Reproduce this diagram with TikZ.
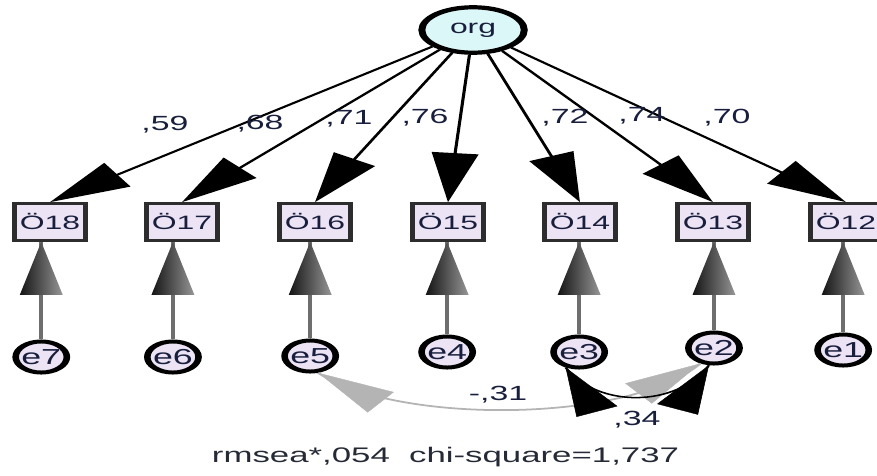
\documentclass[tikz,border=0pt]{standalone}
\usepackage{fontspec}
\setmainfont{Liberation Sans}
\usetikzlibrary{arrows.meta,shapes.geometric,calc}

\definecolor{orgfill}{RGB}{220,247,247}
\definecolor{varfill}{RGB}{236,227,245}
\definecolor{labtext}{RGB}{24,30,60}
\definecolor{fittext}{RGB}{38,42,54}
\definecolor{boxline}{RGB}{45,45,45}
\definecolor{errline}{RGB}{110,110,110}
\definecolor{covgray}{RGB}{180,180,180}
\definecolor{headdark}{RGB}{20,20,20}
\definecolor{headlight}{RGB}{150,150,150}

\tikzset{
  obs/.style={draw=boxline, fill=varfill, line width=2.3pt,
    minimum width=36.7pt, minimum height=31.6pt, inner sep=0pt,
    font=\fontsize{16.5}{18}\selectfont, text=labtext},
  err/.style={circle, draw=black, fill=varfill, line width=3.4pt,
    minimum size=26.5pt, inner sep=0pt,
    font=\fontsize{18.5}{20}\selectfont, text=labtext},
  lat/.style={ellipse, draw=black, fill=orgfill, line width=3.6pt,
    minimum width=53pt, minimum height=38.8pt, inner sep=0pt,
    font=\fontsize{16.5}{18}\selectfont, text=labtext},
  load/.style={line width=1.6pt, -{Triangle[length=42pt,width=24pt]}},
  errarrow/.style={draw=errline, line width=2pt},
  errhead/.style={left color=headdark, right color=headlight},
  covblack/.style={line width=1.3pt},
  covgrayline/.style={draw=covgray, line width=1.5pt},
  headblack/.style={line width=0.3pt, -{Triangle[length=41pt,width=23pt]}},
  headgray/.style={draw=covgray, fill=covgray, line width=0.3pt,
    -{Triangle[length=41pt,width=22pt]}},
  coef/.style={anchor=base, inner sep=0pt,
    font=\fontsize{17.5}{20}\selectfont, text=labtext},
}

\begin{document}
\begin{tikzpicture}[x=0.03cm, y=-0.03cm]
\useasboundingbox (0,0) rectangle (877,475);
% the path diagram is laid out in square units and widened by the canvas
\begin{scope}[transform canvas={xscale=1.65}]
  % latent factor
  \node[lat] (org) at (286.7,30) {org};

  % indicators
  \node[obs] (O18) at (30.3,222)  {Ö18};
  \node[obs] (O17) at (110.3,222) {Ö17};
  \node[obs] (O16) at (190.9,222) {Ö16};
  \node[obs] (O15) at (271.5,222) {Ö15};
  \node[obs] (O14) at (351.5,222) {Ö14};
  \node[obs] (O13) at (432.1,222) {Ö13};
  \node[obs] (O12) at (512.7,222) {Ö12};

  % error terms
  \node[err] (e7) at (25,357)    {e7};
  \node[err] (e6) at (104.8,357) {e6};
  \node[err] (e5) at (188,356)   {e5};
  \node[err] (e4) at (271,352)   {e4};
  \node[err] (e3) at (351,352)   {e3};
  \node[err] (e2) at (432.7,348) {e2};
  \node[err] (e1) at (511,350)   {e1};

  % factor loadings
  \foreach \o in {O18,O17,O16,O15,O14,O13,O12}
    \draw[load] (org) -- (\o.north);

  % error paths with shaded heads
  \foreach \e/\o in {e7/O18,e6/O17,e5/O16,e4/O15,e3/O14,e2/O13,e1/O12}{
    \draw[errarrow] (\e.north) -- (\e.north |- \o.south);
    \shade[errhead] (\e.north |- \o.south) -- ++(-13,53) -- ++(26,0) -- cycle;
  }

  % covariance e5 <-> e2
  \draw[covgrayline] (e5.-74) .. controls (240,424) and (380,424) .. (e2.-118);
  \draw[headgray] ($(e5.-74)+(38,29.5)$) -- (e5.-74);
  \draw[headgray] ($(e2.-118)+(-37.5,30)$) -- (e2.-118);

  % covariance e3 <-> e2
  \draw[covblack] (e3.-118) .. controls (362,408) and (410,408) .. (e2.-100);
  \draw[headblack] ($(e3.-118)+(19,44)$) -- (e3.-118);
  \draw[headblack] ($(e2.-100)+(-19,44)$) -- (e2.-100);

  % coefficients
  \node[coef] (c18) at (100,130.7)   {,59};
  \node[coef] (c17) at (157.6,129.3) {,68};
  \node[coef] (c16) at (211.5,124)   {,71};
  \node[coef] (c15) at (257.6,123.3) {,76};
  \node[coef] (c14) at (342.4,123.3) {,72};
  \node[coef] (c13) at (389,121.7)   {,74};
  \node[coef] (c12) at (440.6,123.3) {,70};
  \node[coef] (c52) at (301.8,400)   {-,31};
  \node[coef] (c32) at (386,425)     {,34};

  % fit statistics
  \node[anchor=base, inner sep=0pt, font=\fontsize{18}{20}\selectfont,
        text=fittext] (fit) at (270,462) {rmsea*,054\ \ chi-square=1,737};
\end{scope}
\end{tikzpicture}
\end{document}
